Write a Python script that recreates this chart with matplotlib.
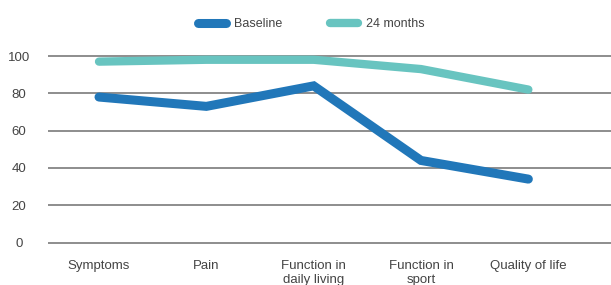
import numpy as np
import matplotlib.pyplot as plt

categories = ['Symptoms', 'Pain', 'Function in\ndaily living', 'Function in\nsport', 'Quality of life']
baseline   = [78, 73, 84, 44, 34]
months_24  = [97, 98, 98, 93, 82]
yticks     = [0, 20, 40, 60, 80, 100]

plt.rcParams['font.family'] = ['Liberation Sans', 'DejaVu Sans']
text_col = '#444444'

fig = plt.figure(figsize=(6.11, 2.85), dpi=100)
ax = fig.add_axes([0.0786, 0.136, 0.9214, 0.6805])

x = np.arange(len(categories))
ax.plot(x, baseline, color='#2177b9', lw=6.5, solid_capstyle='round', solid_joinstyle='miter', label='Baseline', zorder=3)
ax.plot(x, months_24, color='#68c4c0', lw=6.0, solid_capstyle='round', solid_joinstyle='miter', label='24 months', zorder=3)

ax.set_xlim(-0.475, 4.77)
ax.set_ylim(-2, 102)
ax.set_yticks(yticks)
ax.set_xticks(x)
ax.set_xticklabels(categories, fontsize=9.5, color=text_col, va='top', linespacing=1.25)
ax.tick_params(axis='x', length=0, pad=10)
ax.tick_params(axis='y', length=0, pad=13, labelsize=9.5, labelcolor=text_col)
for lab in ax.get_yticklabels():
    lab.set_horizontalalignment('center')
    lab.set_x(-0.02)

ax.grid(axis='y', color='#7a7a7a', lw=1.2)
ax.set_axisbelow(True)
for s in ax.spines.values():
    s.set_visible(False)

fig.legend(loc='center', bbox_to_anchor=(0.51, 0.915), ncol=2, frameon=False,
           fontsize=9, labelcolor=text_col, handlelength=2.2, columnspacing=3.8,
           handletextpad=0.7)

fig.savefig('out.png', dpi=100)
